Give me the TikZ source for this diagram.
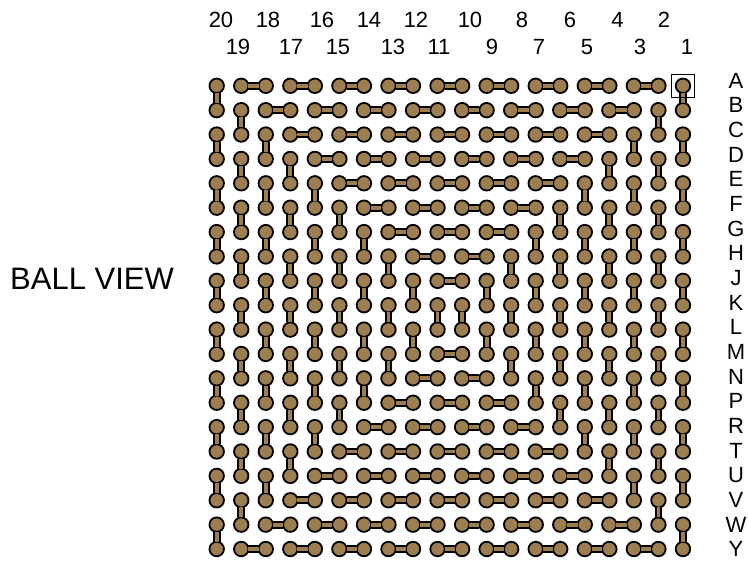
\documentclass[tikz,border=0pt]{standalone}
\usepackage{fontspec}
\setmainfont{Liberation Sans}
\definecolor{bonebrown}{RGB}{156,126,80}

\begin{document}
\begin{tikzpicture}[x=1pt, y=-1pt,
    ball/.style={circle, draw=black, line width=1.8pt, fill=bonebrown, inner sep=0pt, minimum size=14.5pt},
    bone/.style={draw=black, line width=2pt, double=bonebrown, double distance=3.8pt, shorten <=-1pt, shorten >=-1pt},
    pinlabel/.style={anchor=base, inner sep=0pt, font=\fontsize{22}{22}\selectfont},
    marker/.style={draw=black, line width=0.8pt, minimum size=23pt, inner sep=0pt}
]
\useasboundingbox (0,0) rectangle (748,561);

    % Title
    \node[anchor=base west, inner sep=0pt, font=\fontsize{31}{31}\selectfont] (title) at (10,289.7) {BALL VIEW};

    % Column numbers (two staggered rows)
    \foreach \num/\xx in {20/221,18/268,16/322,14/369,12/416,10/470,8/522,6/570,4/617.5,2/664}
        \node[pinlabel] (col-\num) at (\xx,27.3) {\num};
    \foreach \num/\xx in {19/238,17/291,15/338,13/393,11/439,9/492,7/539,5/587,3/640,1/687}
        \node[pinlabel] (col-\num) at (\xx,55) {\num};

    % Row letters
    \foreach \lt [count=\i from 0] in {A,B,C,D,E,F,G,H,J,K,L,M,N,P,R,T,U,V,W,Y}
        \node[pinlabel] (row-\lt) at (736,88.3+24.66*\i) {\lt};

    % Balls
    \foreach \r in {0,...,19}
        \foreach \c in {0,...,19}
            \node[ball] (b-\r-\c) at (216.7+24.54*\c,85.8+24.38*\r) {};

    % Dog-bones, ring by ring
    \foreach \k in {0,...,9}{
        \pgfmathtruncatemacro\kR{19-\k}
        \pgfmathtruncatemacro\nV{9-\k}
        \foreach \i in {0,...,\nV}{
            \pgfmathtruncatemacro\rA{\k+2*\i}
            \pgfmathtruncatemacro\rB{\rA+1}
            \draw[bone] (b-\rA-\k) -- (b-\rB-\k);
            \draw[bone] (b-\rA-\kR) -- (b-\rB-\kR);
        }
        \ifnum\k<9
            \pgfmathtruncatemacro\nH{8-\k}
            \foreach \j in {0,...,\nH}{
                \pgfmathtruncatemacro\cA{\k+1+2*\j}
                \pgfmathtruncatemacro\cB{\cA+1}
                \draw[bone] (b-\k-\cA) -- (b-\k-\cB);
                \draw[bone] (b-\kR-\cA) -- (b-\kR-\cB);
            }
        \fi
    }

    % Pin A1 marker
    \node[marker] (pin-A1) at (b-0-19) {};

\end{tikzpicture}
\end{document}
